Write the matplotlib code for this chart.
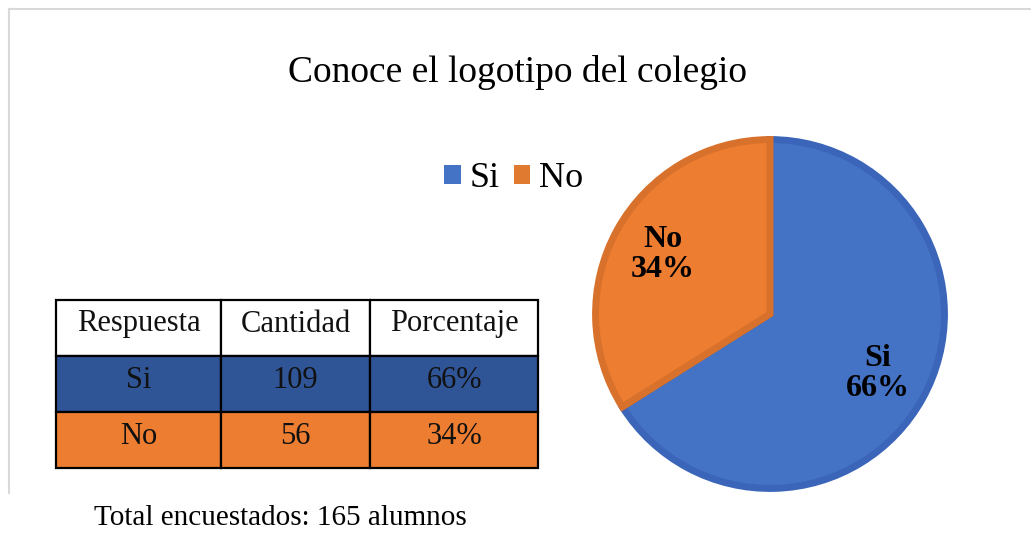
import matplotlib
matplotlib.use("Agg")
import matplotlib.pyplot as plt
from matplotlib.patches import Rectangle, Patch
from matplotlib.lines import Line2D
import numpy as np

plt.rcParams['font.family'] = ['Liberation Serif', 'DejaVu Serif']

# ---- data ----
title = "Conoce el logotipo del colegio"
categories = ["Si", "No"]
counts = [109, 56]
percents = [66, 34]
table_header = ["Respuesta", "Cantidad", "Porcentaje"]
total_text = "Total encuestados: 165 alumnos"

fill_colors = ["#4472C4", "#ED7D31"]
edge_colors = ["#3B65B8", "#D8712B"]
row_colors = ["#2F5597", "#ED7D31"]

W, H = 1031, 533
fig = plt.figure(figsize=(W / 100, H / 100), dpi=100)

# overlay axes in pixel coords
ov = fig.add_axes([0, 0, 1, 1])
ov.set_xlim(0, W)
ov.set_ylim(H, 0)
ov.axis('off')

# outer light border (top and left)
ov.add_line(Line2D([9, W], [9, 9], color="#D9D9D9", lw=1.5))
ov.add_line(Line2D([9, 9], [9, 493], color="#D9D9D9", lw=1.5))

# title
ov.text(517, 72, title, ha='center', va='center', fontsize=27)

# ---- pie ----
cx, cy, r = 770, 314, 178
pax = fig.add_axes([(cx - r) / W, (H - cy - r) / H, 2 * r / W, 2 * r / H])
wedges, _ = pax.pie(counts, colors=fill_colors, startangle=90, counterclock=False,
                    radius=0.98,
                    wedgeprops=dict(linewidth=5, joinstyle='miter'))
for w, ec in zip(wedges, edge_colors):
    w.set_edgecolor(ec)
pax.set_xlim(-1, 1)
pax.set_ylim(-1, 1)
pax.set_aspect('equal')
pax.axis('off')

start = 90.0
total = sum(counts)
for cat, c, p in zip(categories, counts, percents):
    span = 360.0 * c / total
    mid = np.deg2rad(start - span / 2)
    start -= span
    d = 0.69
    pax.text(d * np.cos(mid), d * np.sin(mid), f"{cat}\n{p}%", ha='center', va='center',
             fontsize=23, fontweight='bold', linespacing=1.05)

# legend
handles = [Patch(facecolor=fc, edgecolor='none') for fc in ["#4472C4", "#E07A30"]]
fig.legend(handles, categories, loc='center', bbox_to_anchor=(514 / W, 1 - 179 / H),
           ncol=2, frameon=False, fontsize=26, handlelength=0.45, handleheight=0.45,
           handletextpad=0.25, columnspacing=0.4)

# ---- table ----
col_x = [56, 221, 370, 538]
row_y = [300, 356, 412, 468]
rows = [table_header] + [[cat, str(c), f"{p}%"] for cat, c, p in zip(categories, counts, percents)]
bgs = ["white"] + row_colors
for i, (row, bg) in enumerate(zip(rows, bgs)):
    y0, y1 = row_y[i], row_y[i + 1]
    for j, txt in enumerate(row):
        x0, x1 = col_x[j], col_x[j + 1]
        ov.add_patch(Rectangle((x0, y0), x1 - x0, y1 - y0, facecolor=bg,
                               edgecolor="black", lw=1.6))
        ov.text((x0 + x1) / 2, (y0 + y1) / 2 - 4, txt, ha='center', va='center',
                fontsize=22, color="#111111")

ov.text(280, 518, total_text, ha='center', va='center', fontsize=21)

fig.savefig("out.png", dpi=100)
